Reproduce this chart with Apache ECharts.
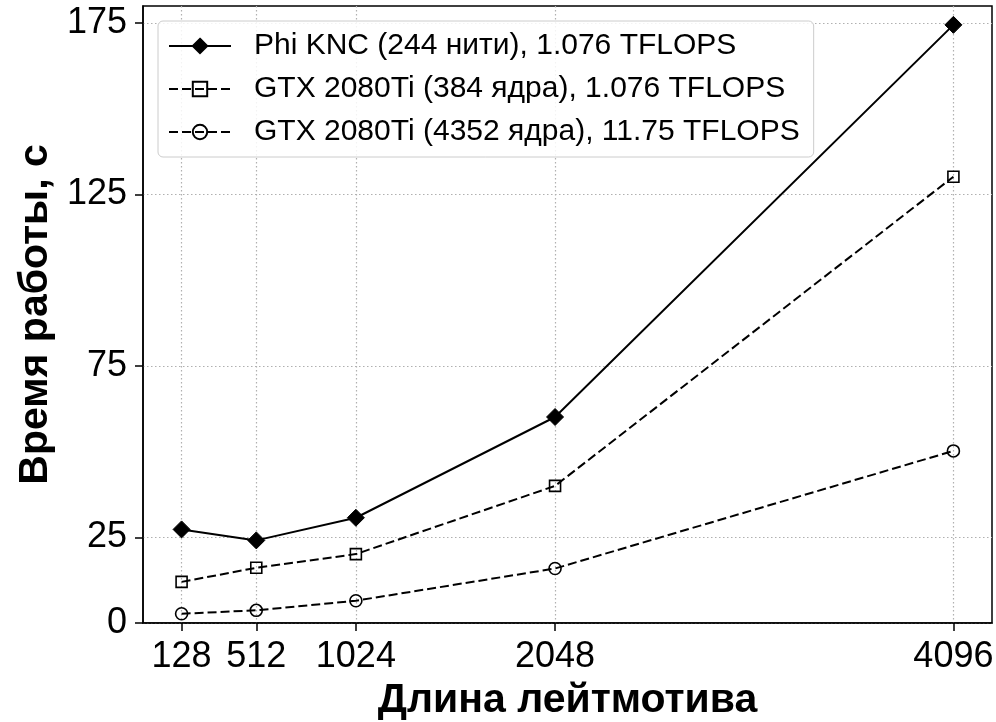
<!DOCTYPE html>
<html>
<head>
<meta charset="utf-8">
<style>
  html, body { margin: 0; padding: 0; background: #fff; }
  #chart { width: 996px; height: 722px; }
</style>
<script src="https://cdn.jsdelivr.net/npm/echarts@6/dist/echarts.min.js"></script>
</head>
<body>
<div id="chart"></div>
<script>
// Motif lengths (x) and run times in seconds (y)
const motifLengths = [128, 512, 1024, 2048, 4096];
const phiKnc = [27.3, 24.1, 30.7, 60.1, 174.5];
const gtx384 = [12.0, 16.1, 20.1, 40.0, 130.2];
const gtx4352 = [2.7, 3.7, 6.5, 15.9, 50.2];
const xTicks = [128, 512, 1024, 2048, 4096];
const yTicks = [0, 25, 75, 125, 175];
const seriesNames = [
  'Phi KNC (244 нити), 1.076 TFLOPS',
  'GTX 2080Ti (384 ядра), 1.076 TFLOPS',
  'GTX 2080Ti (4352 ядра), 11.75 TFLOPS'
];

const FONT = '"Liberation Sans", Arial, sans-serif';
const pairs = ys => motifLengths.map((x, i) => [x, ys[i]]);
const gridLine = { show: true, lineStyle: { color: '#b0b0b0', width: 1.2, type: [1.5, 2.5] } };

const chart = echarts.init(document.getElementById('chart'));
chart.setOption({
  animation: false,
  backgroundColor: '#fff',
  grid: {
    left: 143, right: 4, top: 6, bottom: 99,
    outerBoundsMode: 'none', containLabel: false,
    show: true, borderColor: '#000', borderWidth: 1.5
  },
  legend: {
    orient: 'vertical',
    left: 158, top: 21,
    padding: [10, 14, 10, 10],
    itemWidth: 62, itemHeight: 18, itemGap: 13,
    backgroundColor: 'rgba(255,255,255,0.85)',
    borderColor: '#cccccc', borderWidth: 1, borderRadius: 5,
    textStyle: { fontFamily: FONT, fontSize: 30, color: '#000', lineHeight: 30, padding: [0, 0, 0, 18] },
    data: seriesNames
  },
  xAxis: {
    type: 'value',
    min: -70.4, max: 4294.4,
    name: 'Длина лейтмотива',
    nameLocation: 'middle', nameGap: 57,
    nameTextStyle: { fontFamily: FONT, fontSize: 41, fontWeight: 'bold', color: '#000' },
    axisLine: { show: true, onZero: false, lineStyle: { color: '#000', width: 1.5 } },
    axisTick: { show: true, inside: false, length: 8, customValues: xTicks, lineStyle: { color: '#000', width: 1.5 } },
    axisLabel: { customValues: xTicks, formatter: v => String(v), fontFamily: FONT, fontSize: 36, color: '#000', margin: 16 },
    splitLine: gridLine
  },
  yAxis: {
    type: 'value',
    min: 0, max: 180,
    name: 'Время работы, с',
    nameLocation: 'middle', nameGap: 79,
    nameTextStyle: { fontFamily: FONT, fontSize: 41, fontWeight: 'bold', color: '#000' },
    axisLine: { show: true, onZero: false, lineStyle: { color: '#000', width: 1.5 } },
    axisTick: { show: true, inside: false, length: 8, customValues: yTicks, lineStyle: { color: '#000', width: 1.5 } },
    axisLabel: { customValues: yTicks, formatter: v => String(v), fontFamily: FONT, fontSize: 36, color: '#000', margin: 16 },
    splitLine: gridLine
  },
  series: [
    {
      name: seriesNames[0], type: 'line', data: pairs(phiKnc),
      symbol: 'diamond', symbolSize: 17,
      lineStyle: { color: '#000', width: 2, type: 'solid' },
      itemStyle: { color: '#000', borderColor: '#000', borderWidth: 1 },
      z: 5
    },
    {
      name: seriesNames[1], type: 'line', data: pairs(gtx384),
      symbol: 'rect', symbolSize: 11,
      lineStyle: { color: '#000', width: 2, type: [9, 4] },
      itemStyle: { color: 'rgba(255,255,255,0)', borderColor: '#000', borderWidth: 1.6 },
      z: 4
    },
    {
      name: seriesNames[2], type: 'line', data: pairs(gtx4352),
      symbol: 'circle', symbolSize: 12,
      lineStyle: { color: '#000', width: 2, type: [9, 4] },
      itemStyle: { color: 'rgba(255,255,255,0)', borderColor: '#000', borderWidth: 1.6 },
      z: 3
    }
  ]
});
</script>
</body>
</html>
